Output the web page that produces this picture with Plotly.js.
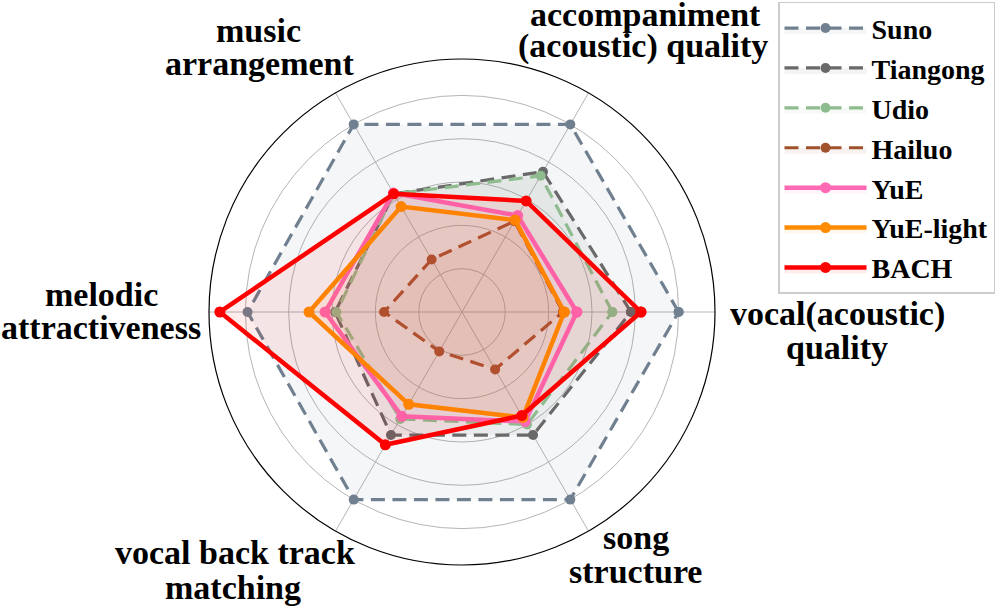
<!DOCTYPE html>
<html>
<head>
<meta charset="utf-8">
<script src="https://cdn.plot.ly/plotly-3.0.1.min.js"></script>
<style>
  html, body { margin: 0; padding: 0; background: #fff; }
  #chart { width: 997px; height: 612px; }
</style>
</head>
<body>
<div id="chart"></div>
<script>
// axis order: starts at the right, goes counter-clockwise
const categories = ['vocal(acoustic) quality', 'accompaniment (acoustic) quality', 'music arrangement',
                    'melodic attractiveness', 'vocal back track matching', 'song structure'];

// scores (one unit = one grid ring)
const suno      = [5.0, 5.0, 5.0, 4.95, 5.0, 5.0];
const tiangong  = [3.9, 3.74, 3.15, 2.93, 3.28, 3.28];
const udio      = [3.47, 3.63, 3.15, 2.9, 2.85, 3.0];
const hailuo    = [2.33, 2.42, 1.4, 1.8, 1.05, 1.53];
const yue       = [2.65, 2.57, 3.17, 3.16, 2.78, 2.92];
const yueLight  = [2.36, 2.45, 2.81, 3.53, 2.46, 2.81];
const bach      = [4.13, 2.96, 3.15, 5.59, 3.54, 2.76];

const FONT = 'Liberation Serif, Times New Roman, serif';

// name, values, colour, dashed?
const series = [
    ['Suno', suno, '#708090', true],
    ['Tiangong', tiangong, '#696969', true],
    ['Udio', udio, '#8fbc8f', true],
    ['Hailuo', hailuo, '#a0522d', true],
    ['YuE', yue, '#ff69b4', false],
    ['YuE-light', yueLight, '#ff8c00', false],
    ['BACH', bach, '#ff0000', false],
];

function hexToRgba(hex, a) {
    const n = parseInt(hex.slice(1), 16);
    return `rgba(${(n >> 16) & 255},${(n >> 8) & 255},${n & 255},${a})`;
}

const traces = series.map(([name, vals, color, dashed]) => ({
    type: 'scatterpolar',
    name: name,
    legendgroup: name,
    r: vals.concat([vals[0]]),
    theta: categories.concat([categories[0]]),
    mode: 'lines+markers',
    fill: 'toself',
    fillcolor: hexToRgba(color, 0.07),
    line: { color: color, width: dashed ? 3.2 : 4.5, dash: dashed ? '14px,7.5px' : 'solid' },
    marker: { color: color, size: dashed ? 10 : 11 },
    hoverinfo: 'skip',
}));

// axis labels, one line each: text, x centre, y (x-height centre)
const labelLines = [
    ['vocal(acoustic)', 837, 318],
    ['quality', 837, 351],
    ['accompaniment', 645, 18],
    ['(acoustic) quality', 643, 50],
    ['music', 258, 34],
    ['arrangement', 260, 68],
    ['melodic', 101, 298],
    ['attractiveness', 101, 331],
    ['vocal back track', 235, 556],
    ['matching', 233, 591],
    ['song', 636, 541],
    ['structure', 635, 575],
];

const W = 997, H = 612;
const annotations = labelLines.map(([text, x, y]) => ({
    text: text,
    x: x / W,
    y: 1 - (y - 4) / H,
    xref: 'paper',
    yref: 'paper',
    xanchor: 'center',
    yanchor: 'middle',
    showarrow: false,
    borderpad: 0,
    font: { family: FONT, size: 34, color: '#000', weight: 'bold' },
}));

const layout = {
    width: W,
    height: H,
    margin: { l: 0, r: 0, t: 0, b: 0 },
    paper_bgcolor: '#fff',
    showlegend: true,
    legend: {
        x: 0.998,
        y: 0.997,
        xanchor: 'right',
        yanchor: 'top',
        bordercolor: '#cccccc',
        borderwidth: 1.5,
        bgcolor: '#fff',
        tracegroupgap: 0.5,
        itemwidth: 82,
        font: { family: FONT, size: 28, color: '#000', weight: 'bold' },
    },
    polar: {
        domain: { x: [209 / W, 715 / W], y: [1 - 565 / H, 1 - 59 / H] },
        bgcolor: '#fff',
        radialaxis: {
            range: [0, 5.84],
            tickvals: [1, 2, 3, 4, 5],
            showticklabels: false,
            ticks: '',
            showline: false,
            gridcolor: '#b5b5b5',
            gridwidth: 1,
        },
        angularaxis: {
            rotation: 0,
            direction: 'counterclockwise',
            showticklabels: false,
            ticks: '',
            gridcolor: '#b5b5b5',
            gridwidth: 1,
            linecolor: '#000',
            linewidth: 1.2,
        },
    },
    annotations: annotations,
};

Plotly.newPlot('chart', traces, layout, { displayModeBar: false, staticPlot: true });
</script>
</body>
</html>
